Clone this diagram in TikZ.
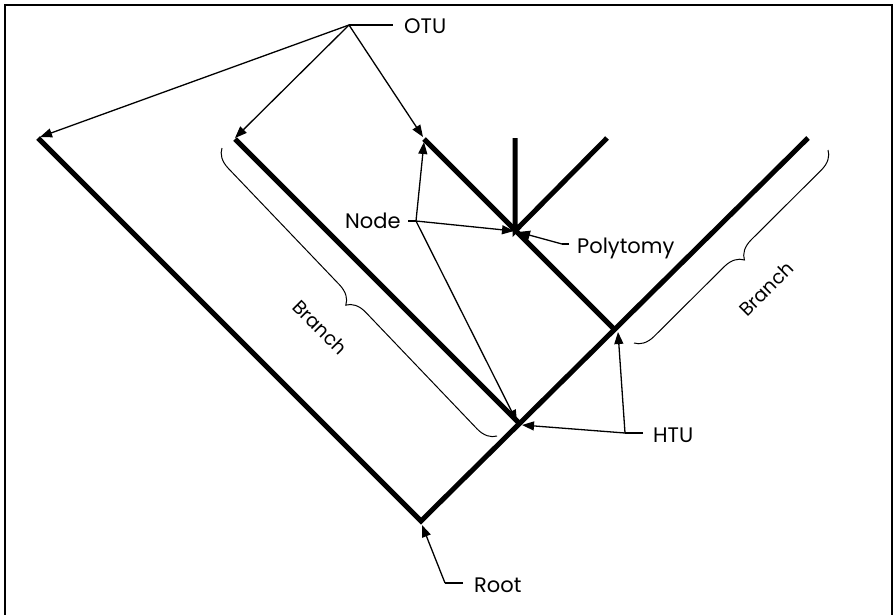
\documentclass[tikz,border=0pt]{standalone}
\usepackage{fontspec}
\setmainfont{Poppins}
\usetikzlibrary{arrows.meta,decorations.pathreplacing}
\begin{document}
\begin{tikzpicture}[x=1pt,y=-1pt,
  branch/.style={line width=5pt},
  ptr/.style={line width=1.3pt,-{Triangle[length=12pt,width=9pt]}},
  lead/.style={line width=1.3pt},
  lbl/.style={font=\fontsize{21}{24}\selectfont, inner sep=0pt, anchor=base west},
  brc/.style={line width=1pt, decorate, decoration={brace, amplitude=19pt}},
  blbl/.style={font=\fontsize{19}{22}\selectfont, inner sep=0pt}]
\useasboundingbox (0,0) rectangle (893,614);
\draw[line width=2pt] (5,616) -- (5,5) -- (892,5) -- (892,616);
% tree points
\coordinate (root) at (421,521);
\coordinate (L1) at (38,138);
\coordinate (R1) at (808,138);
\coordinate (H1) at (519,423);
\coordinate (L2) at (235,139);
\coordinate (H2) at (614,329);
\coordinate (P) at (515,231);
\coordinate (L3) at (424,139);
\coordinate (V) at (515,138);
\coordinate (R3) at (607,138);
\draw[branch] (L1) -- (root) -- (R1);
\draw[branch] (L2) -- (H1);
\draw[branch] (L3) -- (H2);
\draw[branch] (V) -- (P) -- (R3);
% labels
\node[lbl] (otu) at (404,33) {OTU};
\node[lbl] (node) at (345,228) {Node};
\node[lbl] (poly) at (577,253) {Polytomy};
\node[lbl] (htu) at (653,442) {HTU};
\node[lbl] (rootl) at (474,592) {Root};
% OTU pointers
\coordinate (otuJ) at (349,25);
\coordinate (otuE) at (393,25);
\coordinate (t1) at (40,137);
\coordinate (t2) at (235,138);
\coordinate (t3) at (423,137);
\draw[lead] (otuJ) -- (otuE);
\draw[ptr] (otuJ) -- (t1);
\draw[ptr] (otuJ) -- (t2);
\draw[ptr] (otuJ) -- (t3);
% Node pointers
\coordinate (nodeJ) at (416,221);
\coordinate (nodeE) at (408,221);
\coordinate (n1) at (424,142);
\coordinate (n2) at (514,231);
\coordinate (n3) at (517,422);
\draw[lead] (nodeE) -- (nodeJ);
\draw[ptr] (nodeJ) -- (n1);
\draw[ptr] (nodeJ) -- (n2);
\draw[ptr] (nodeJ) -- (n3);
% Polytomy pointer
\coordinate (polyJ) at (562,244);
\coordinate (polyE) at (569,244);
\coordinate (p1) at (518,232);
\draw[lead] (polyE) -- (polyJ);
\draw[ptr] (polyJ) -- (p1);
% HTU pointers
\coordinate (htuJ) at (625,433);
\coordinate (htuE) at (643,433);
\coordinate (h1) at (522,425);
\coordinate (h2) at (618,332);
\draw[lead] (htuE) -- (htuJ);
\draw[ptr] (htuJ) -- (h1);
\draw[ptr] (htuJ) -- (h2);
% Root pointer
\coordinate (rootJ) at (445,583);
\coordinate (rootE) at (463,583);
\coordinate (r1) at (422,525);
\draw[lead] (rootE) -- (rootJ);
\draw[ptr] (rootJ) -- (r1);
% braces
\coordinate (bA1) at (497,436);
\coordinate (bA2) at (222,148);
\coordinate (bB1) at (828,150);
\coordinate (bB2) at (634,343);
\draw[brc] (bA1) -- (bA2);
\draw[brc] (bB1) -- (bB2);
\node[blbl, rotate=-45] (br1) at (320,327) {Branch};
\node[blbl, rotate=45] (br2) at (766,289) {Branch};
\end{tikzpicture}
\end{document}
